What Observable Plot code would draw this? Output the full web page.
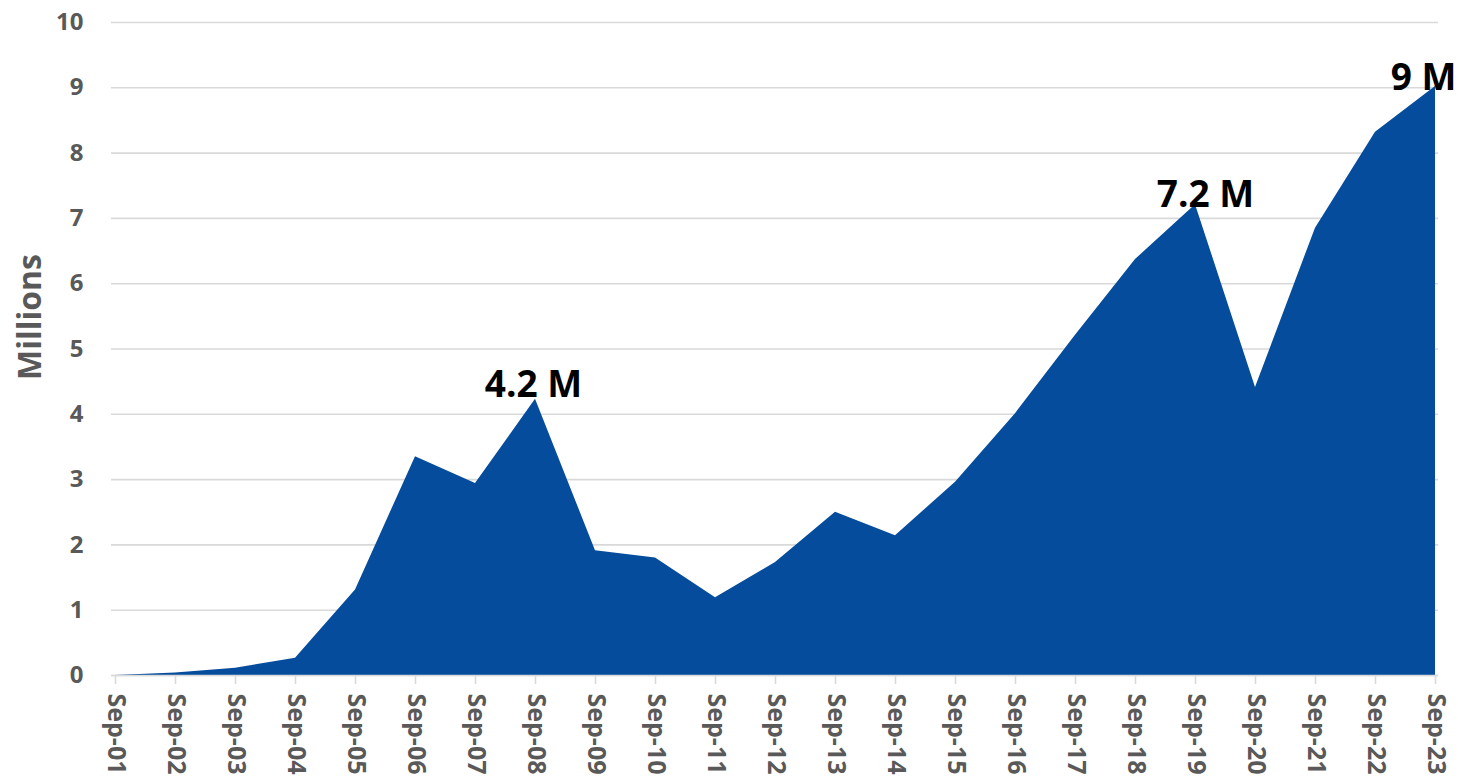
<!DOCTYPE html>
<html>
<head>
<meta charset="utf-8">
<script src="https://cdn.jsdelivr.net/npm/d3@7"></script>
<script src="https://cdn.jsdelivr.net/npm/@observablehq/plot@0.6"></script>
<style>
  html, body { margin: 0; padding: 0; background: #ffffff; }
  #chart { width: 1458px; height: 781px; }
</style>
</head>
<body>
<div id="chart"></div>
<script>
const categories = ["Sep-01","Sep-02","Sep-03","Sep-04","Sep-05","Sep-06","Sep-07","Sep-08","Sep-09","Sep-10","Sep-11","Sep-12","Sep-13","Sep-14","Sep-15","Sep-16","Sep-17","Sep-18","Sep-19","Sep-20","Sep-21","Sep-22","Sep-23"];
const values = [0.0, 0.04, 0.11, 0.265, 1.31, 3.35, 2.94, 4.23, 1.91, 1.80, 1.19, 1.73, 2.50, 2.14, 2.96, 4.01, 5.21, 6.37, 7.21, 4.41, 6.85, 8.32, 9.02];
const yTicks = [0,1,2,3,4,5,6,7,8,9,10];
const labelCats = ["Sep-08","Sep-19","Sep-23"];
const labelValues = [4.23, 7.21, 9.02];
const labelTexts = ["4.2 M","7.2 M","9 M"];
const yTitle = "Millions";

const data = categories.map((c, i) => ({cat: c, value: values[i]}));
const labels = labelCats.map((c, i) => ({cat: c, value: labelValues[i], text: labelTexts[i]}));

const font = "'Open Sans', 'DejaVu Sans', sans-serif";
const gray = "#595959";
const annot = (i, dx, dy, anchor) => Plot.text([labels[i]], {
  x: "cat", y: "value", text: "text", textAnchor: anchor, lineAnchor: "bottom",
  dx, dy, fontSize: 37, fontWeight: "bold", fill: "#000000", fontFamily: font
});

const chart = Plot.plot({
  width: 1458,
  height: 781,
  marginLeft: 111,
  marginRight: 20,
  marginTop: 22,
  marginBottom: 106,
  style: { fontFamily: font, fontWeight: "bold", color: gray, background: "#ffffff" },
  x: { type: "point", domain: categories, padding: 0, label: null },
  y: { domain: [0, 10], label: null },
  marks: [
    Plot.gridY(yTicks, { stroke: "#d9d9d9", strokeOpacity: 1, strokeWidth: 1.6 }),
    Plot.areaY(data, { x: "cat", y: "value", fill: "#054c9c" }),
    Plot.ruleY([0], { stroke: "#d9d9d9", strokeWidth: 1.6 }),
    Plot.axisX({ tickRotate: 90, tickSize: 9, tickPadding: 9, stroke: "#d9d9d9", strokeWidth: 1.6, fill: gray, fontSize: 25, fontWeight: "bold", label: null }),
    Plot.axisY(yTicks, { tickSize: 0, tickPadding: 28, tickFormat: d => String(d), fill: gray, fontSize: 24, fontWeight: "bold", label: null }),
    annot(0, -2, -2, "middle"),
    annot(1, 10, 2, "middle"),
    annot(2, 21, 4, "end"),
    Plot.text([yTitle], { frameAnchor: "left", rotate: -90, dx: -81, dy: 31, fontSize: 32, fontWeight: "bold", fill: gray, fontFamily: font })
  ]
});
document.getElementById("chart").appendChild(chart);
</script>
</body>
</html>
